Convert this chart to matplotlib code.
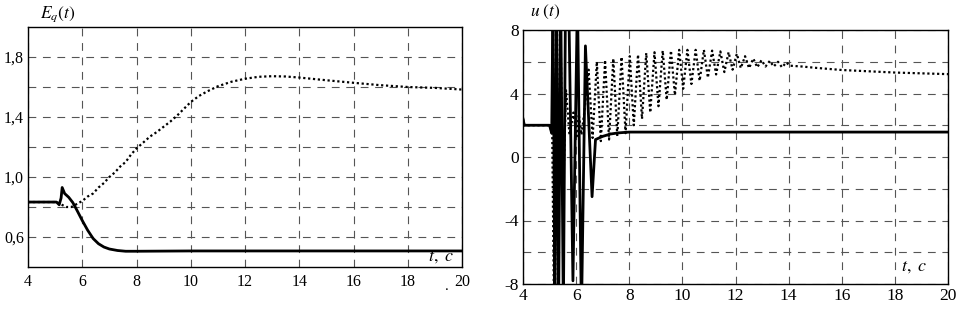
import matplotlib
matplotlib.use("Agg")
import matplotlib.pyplot as plt
import numpy as np

plt.rcParams['font.family'] = ['Liberation Serif', 'DejaVu Serif']
plt.rcParams['mathtext.fontset'] = 'stix'

# ---- Left panel: E_q(t) ----
eq_solid_t = [4.0, 5.05, 5.15, 5.22, 5.26, 5.35, 5.5, 5.65, 5.8, 6.0, 6.2, 6.4, 6.6, 6.8, 7.0, 7.3, 7.6, 8.0, 10.0, 20.0]
eq_solid_v = [0.833, 0.833, 0.815, 0.86, 0.93, 0.89, 0.865, 0.83, 0.78, 0.71, 0.645, 0.59, 0.555, 0.533, 0.52, 0.51, 0.505, 0.505, 0.507, 0.507]

eq_dot_t = [4.0, 5.05, 5.2, 5.4, 5.6, 5.8, 6.0, 6.2, 6.4, 6.6, 6.8, 7.0, 7.2, 7.4, 7.6, 7.8, 8.0, 8.25, 8.5, 8.75, 9.0, 9.25, 9.5, 9.75, 10.0, 10.3, 10.6, 11.0, 11.5, 12.0, 12.5, 13.0, 13.5, 14.0, 15.0, 16.0, 17.0, 18.0, 19.0, 20.0]
eq_dot_v = [0.833, 0.833, 0.82, 0.80, 0.80, 0.82, 0.84, 0.87, 0.89, 0.93, 0.96, 1.00, 1.03, 1.07, 1.10, 1.15, 1.19, 1.23, 1.27, 1.30, 1.335, 1.37, 1.41, 1.455, 1.50, 1.54, 1.57, 1.605, 1.635, 1.655, 1.668, 1.672, 1.670, 1.663, 1.645, 1.628, 1.612, 1.60, 1.594, 1.583]

eq_yticks = [0.6, 0.8, 1.0, 1.2, 1.4, 1.6, 1.8]
eq_ylabels = ['0,6', '', '1,0', '', '1,4', '', '1,8']
x_ticks = [4, 6, 8, 10, 12, 14, 16, 18, 20]
x_labels_left = ['4', '6', '8', '10', '12', '14', '16', '18', '20']
x_labels_right = ['4', '6', '8', '10', '12', '14', '16', '18', '20']

# ---- Right panel: u(t) ----
u_solid_t = [4.0, 4.05, 5.0, 5.08, 5.13, 5.2, 5.27, 5.34, 5.42, 5.52, 5.6, 5.72, 5.88, 6.05, 6.2, 6.35, 6.6, 6.73, 7.0, 7.3, 7.6, 8.0, 20.0]
u_solid_v = [2.4, 2.0, 2.0, 1.5, 10.0, -10.0, 10.0, -10.0, 10.0, -10.0, 10.0, 10.0, -7.8, 10.0, -10.0, 7.0, -2.5, 1.1, 1.3, 1.45, 1.52, 1.57, 1.57]

u_dot_t = [4.0, 4.05, 5.0, 5.1, 5.17, 5.25, 5.32, 5.4, 5.5, 5.62, 5.75, 5.9, 6.02, 6.1, 6.2, 6.3,
           6.47, 6.62, 6.78, 6.93, 7.09, 7.24, 7.40, 7.55, 7.71, 7.86, 8.02, 8.17, 8.33, 8.48,
           8.64, 8.79, 8.95, 9.10, 9.26, 9.41, 9.57, 9.72, 9.88, 10.03, 10.19, 10.34, 10.50, 10.65,
           10.81, 10.96, 11.12, 11.27, 11.43, 11.58, 11.74, 11.89, 12.05, 12.20, 12.36, 12.51,
           12.67, 12.82, 12.98, 13.13, 13.29, 13.44, 13.60, 13.75, 13.91, 14.06,
           14.5, 15.0, 16.0, 17.0, 18.0, 19.0, 20.0]
u_dot_v = [2.4, 2.0, 2.0, 1.5, -10.0, 10.0, -10.0, 10.0, -3.0, 4.2, 1.4, 2.8, 1.3, 2.7, 1.4, 2.7,
           5.5, 1.2, 6.0, 1.0, 6.1, 1.1, 6.2, 1.3, 6.3, 1.5, 6.35, 2.0, 6.45, 2.4,
           6.55, 2.8, 6.6, 3.2, 6.7, 3.6, 6.7, 3.9, 6.75, 4.3, 6.75, 4.6, 6.75, 4.8,
           6.75, 5.0, 6.7, 5.2, 6.65, 5.35, 6.6, 5.5, 6.5, 5.6, 6.35, 5.6,
           6.2, 5.65, 6.1, 5.7, 6.05, 5.7, 6.0, 5.65, 5.95, 5.75,
           5.7, 5.62, 5.48, 5.4, 5.32, 5.27, 5.22]

u_yticks = [-8, -6, -4, -2, 0, 2, 4, 6, 8]
u_ylabels = ['-8', '', '-4', '', '0', '', '4', '', '8']

W, H = 957, 309
fig = plt.figure(figsize=(W / 100, H / 100), dpi=100)

def px_axes(l, r, t, b):
    return fig.add_axes([l / W, 1 - b / H, (r - l) / W, (b - t) / H])

grid_kw = dict(color='#555555', linestyle=(0, (7, 6)), linewidth=0.8)

ax1 = px_axes(28, 462, 27, 267)
ax1.plot(eq_dot_t, eq_dot_v, color='black', linestyle=(0, (1, 1.2)), linewidth=1.6)
ax1.plot(eq_solid_t, eq_solid_v, color='black', linewidth=2.0)
ax1.set_xlim(4, 20)
ax1.set_ylim(0.4, 2.0)
ax1.set_xticks(x_ticks)
x_labels_left_disp = list(x_labels_left)
ax1.set_xticklabels(x_labels_left_disp, fontsize=11.5)
ax1.set_yticks(eq_yticks)
ax1.set_yticklabels(eq_ylabels, fontsize=11.5)
ax1.tick_params(length=0, pad=5)
ax1.tick_params(axis='y', pad=3)
ax1.grid(True, **grid_kw)
ax1.text(0.5 / 957 * 0 + 40 / W, 1 - 14 / H, r'$E_q(t)$', transform=fig.transFigure,
         fontsize=12.5, ha='left', va='center')
ax1.text(19.7, 0.47, r'$t,\ c$', fontsize=13, ha='right', va='center')
fig.text(447 / W, 1 - 287 / H, '.', fontsize=11, ha='center', va='center')

ax2 = px_axes(523, 948, 30, 284)
ax2.plot(u_dot_t, u_dot_v, color='black', linestyle=(0, (1, 1.2)), linewidth=1.6)
ax2.plot(u_solid_t, u_solid_v, color='black', linewidth=2.0)
ax2.set_xlim(4, 20)
ax2.set_ylim(-8, 8)
ax2.set_xticks(x_ticks)
ax2.set_xticklabels(x_labels_right, fontsize=12.5)
ax2.set_yticks(u_yticks)
ax2.set_yticklabels(u_ylabels, fontsize=12.5)
ax2.tick_params(length=0, pad=3)
ax2.grid(True, **grid_kw)
ax2.text(530 / W, 1 - 12 / H, r'$u\ (t)$', transform=fig.transFigure,
         fontsize=12.5, ha='left', va='center')
ax2.text(19.2, -6.9, r'$t,\ c$', fontsize=13, ha='right', va='center')

for ax in (ax1, ax2):
    for s in ax.spines.values():
        s.set_linewidth(1.0)

fig.savefig('out.png', dpi=100)
